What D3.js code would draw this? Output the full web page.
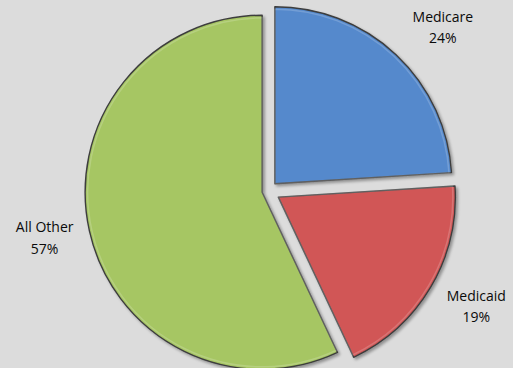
<!DOCTYPE html>
<html>
<head>
<meta charset="utf-8">
<script src="https://cdn.jsdelivr.net/npm/d3@7"></script>
<style>
  html, body { margin: 0; padding: 0; background: #dcdcdc; }
  svg { display: block; }
  .label { font-family: "Open Sans", "Liberation Sans", sans-serif; font-size: 14px; fill: #0a0a0a; }
</style>
</head>
<body>
<svg class="payer_pie" width="513" height="368"></svg>
<script>
// payer mix, clockwise from 12 o'clock
var categories = ["Medicare", "Medicaid", "All Other"];
var shares = [24, 19, 57];
var shareLabels = ["24%", "19%", "57%"];

var colors = {"Medicare": "#5489cc", "Medicaid": "#d15656", "All Other": "#a6c663"};
// how far each slice is pulled out of the pie
var explode = {"Medicare": 10, "Medicaid": 12, "All Other": 6};
// small nudges so labels sit where excel's best fit put them
var nudge = {"Medicare": [14, 7], "Medicaid": [6, -5], "All Other": [6, -5]};

var svg = d3.select("svg.payer_pie"),
    cx = 268, cy = 191,
    radius = 177,
    labelRadius = 235,
    g = svg.append("g").attr("transform", "translate(" + cx + "," + cy + ")");

var defs = svg.append("defs");
var shadow = defs.append("filter").attr("id", "shadow")
    .attr("x", "-10%").attr("y", "-10%").attr("width", "130%").attr("height", "130%");
shadow.append("feGaussianBlur").attr("in", "SourceAlpha").attr("stdDeviation", 1.5).attr("result", "blur");
shadow.append("feOffset").attr("in", "blur").attr("dx", 1.5).attr("dy", 2).attr("result", "off");
shadow.append("feComponentTransfer").attr("in", "off").attr("result", "soft")
  .append("feFuncA").attr("type", "linear").attr("slope", 0.35);
var merge = shadow.append("feMerge");
merge.append("feMergeNode").attr("in", "soft");
merge.append("feMergeNode").attr("in", "SourceGraphic");

var data = categories.map(function (c, i) {
  return {name: c, value: shares[i], label: shareLabels[i]};
});

var pie = d3.pie()
    .sort(null)
    .value(function (d) { return d.value; });

var arc = d3.arc().innerRadius(0).outerRadius(radius);
var inner = d3.arc().innerRadius(0).outerRadius(radius - 2.5);
var labelArc = d3.arc().innerRadius(labelRadius).outerRadius(labelRadius);

var arcs = pie(data);

var offset = function (d) {
  var mid = (d.startAngle + d.endAngle) / 2,
      k = explode[d.data.name];
  return "translate(" + (Math.sin(mid) * k) + "," + (-Math.cos(mid) * k) + ")";
};

var slice = g.selectAll(".slice")
  .data(arcs)
  .enter().append("g")
    .attr("class", "slice")
    .attr("transform", offset);

slice.append("path")
    .attr("d", arc)
    .attr("fill", function (d) { return colors[d.data.name]; })
    .attr("stroke", "#3d3d3d")
    .attr("stroke-width", 1.4)
    .attr("stroke-linejoin", "round")
    .attr("filter", "url(#shadow)");

// thin bevel highlight just inside the edge
slice.append("path")
    .attr("d", inner)
    .attr("fill", "none")
    .attr("stroke", "#ffffff")
    .attr("stroke-opacity", 0.18)
    .attr("stroke-width", 1.5);

var label = g.selectAll(".label")
  .data(arcs)
  .enter().append("text")
    .attr("class", "label")
    .attr("text-anchor", "middle")
    .attr("transform", function (d) {
      var p = labelArc.centroid(d), n = nudge[d.data.name];
      return "translate(" + (p[0] + n[0]) + "," + (p[1] + n[1]) + ")";
    });

label.append("tspan")
    .attr("x", 0)
    .attr("dy", "-0.35em")
    .text(function (d) { return d.data.name; });

label.append("tspan")
    .attr("x", 0)
    .attr("dy", "1.55em")
    .text(function (d) { return d.data.label; });
</script>
</body>
</html>
